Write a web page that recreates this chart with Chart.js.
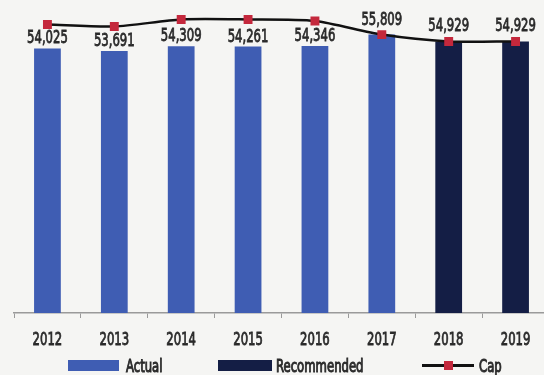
<!DOCTYPE html>
<html>
<head>
<meta charset="utf-8">
<script src="https://cdn.jsdelivr.net/npm/chart.js@4.4.1/dist/chart.umd.min.js"></script>
<style>
  html, body { margin: 0; padding: 0; background: #f5f5f3; overflow: hidden; }
  #wrap { position: relative; width: 544px; height: 375px; overflow: hidden; }
  #chart { position: absolute; left: 0; top: 0; }
  .legend {
    font-family: "DejaVu Sans Condensed", "DejaVu Sans", sans-serif;
    font-size: 18px; color: #2a2a2a;
  }
  .legend .item { position: absolute; top: 356px; height: 18px; display: flex; align-items: center; }
  .legend .txt {
    display: inline-block; transform: scaleX(0.72); transform-origin: left center; white-space: nowrap;
    -webkit-text-stroke: 1px #2a2a2a;
  }
  .legend .swatch { width: 51px; height: 11px; margin-right: 7px; }
  .legend .capline { position: relative; width: 52px; height: 3px; background: #111; margin-right: 5px; }
  .legend .capline span {
    position: absolute; left: 22px; top: -3px; width: 9px; height: 9px; background: #c4283c;
  }
</style>
</head>
<body>
<div id="wrap">
  <canvas id="chart" width="550" height="375"></canvas>
  <div class="legend">
    <div class="item" style="left:68px"><div class="swatch" style="background:#3f5db3"></div><span class="txt">Actual</span></div>
    <div class="item" style="left:218px"><div class="swatch" style="background:#141e45;width:54px;margin-right:4px"></div><span class="txt">Recommended</span></div>
    <div class="item" style="left:422px"><div class="capline"><span></span></div><span class="txt">Cap</span></div>
  </div>
</div>
<script>
  const years = ['2012', '2013', '2014', '2015', '2016', '2017', '2018', '2019'];
  // 2012-2017 actual, 2018-2019 recommended
  const actualValues = [54025, 53691, 54309, 54261, 54346, 55809, null, null];
  const recommendedValues = [null, null, null, null, null, null, 54929, 54929];
  const capValues = [57100, 56850, 57750, 57750, 57550, 55809, 54929, 54929];

  const textFont = '18px "DejaVu Sans Condensed", "DejaVu Sans", sans-serif';
  const squeeze = 0.72;

  // draws narrow, slightly heavier text centred on x with baseline at y
  const narrowText = (ctx, text, x, y) => {
    ctx.save();
    ctx.translate(x, y);
    ctx.scale(squeeze, 1);
    ctx.fillText(text, 0, 0);
    ctx.strokeText(text, 0, 0);
    ctx.restore();
  };

  // value labels above bars + year labels under the axis
  const textLayer = {
    id: 'textLayer',
    afterDatasetsDraw(chart) {
      const ctx = chart.ctx;
      const capMeta = chart.getDatasetMeta(2);
      ctx.save();
      ctx.font = textFont;
      ctx.fillStyle = '#2a2a2a';
      ctx.strokeStyle = '#2a2a2a';
      ctx.lineWidth = 0.8;
      ctx.textAlign = 'center';
      ctx.textBaseline = 'alphabetic';
      [0, 1].forEach(di => {
        const meta = chart.getDatasetMeta(di);
        const values = chart.data.datasets[di].data;
        meta.data.forEach((bar, i) => {
          if (values[i] == null) return;
          const capY = capMeta.data[i].y;
          // lift the label over the cap marker when it sits on the bar top
          const gap = Math.abs(capY - bar.y) < 6 ? 10 : 5;
          narrowText(ctx, values[i].toLocaleString('en-US'), bar.x, bar.y - gap);
        });
      });
      const xScale = chart.scales.x;
      const baseY = chart.chartArea.bottom + 32;
      years.forEach((y, i) => {
        narrowText(ctx, y, xScale.getPixelForTick(i), baseY);
      });
      ctx.restore();
    }
  };

  new Chart(document.getElementById('chart'), {
    data: {
      labels: years,
      datasets: [
        {
          type: 'bar',
          label: 'Actual',
          data: actualValues,
          backgroundColor: '#3f5db3',
          barPercentage: 0.4,
          categoryPercentage: 1.0,
          grouped: false,
          order: 2
        },
        {
          type: 'bar',
          label: 'Recommended',
          data: recommendedValues,
          backgroundColor: '#141e45',
          barPercentage: 0.4,
          categoryPercentage: 1.0,
          grouped: false,
          order: 2
        },
        {
          type: 'line',
          label: 'Cap',
          data: capValues,
          borderColor: '#111',
          borderWidth: 2.5,
          tension: 0.25,
          pointStyle: 'rect',
          pointRadius: 6.3,
          pointBackgroundColor: '#c4283c',
          pointBorderColor: '#c4283c',
          pointBorderWidth: 0,
          order: 1
        }
      ]
    },
    options: {
      responsive: false,
      animation: false,
      layout: { autoPadding: false, padding: { left: 14, right: 1, top: 2, bottom: 0 } },
      plugins: {
        legend: { display: false },
        tooltip: { enabled: false }
      },
      scales: {
        y: {
          display: false,
          min: 20000,
          max: 60000
        },
        x: {
          offset: true,
          afterFit: (scale) => { scale.height = 62; },
          border: { display: true, color: '#9a9a9a', width: 1.5 },
          grid: {
            offset: true,
            drawOnChartArea: false,
            drawTicks: true,
            tickLength: 5,
            color: '#9a9a9a'
          },
          ticks: { color: 'transparent', padding: 9, font: { size: 17 } }
        }
      }
    },
    plugins: [textLayer]
  });
</script>
</body>
</html>
